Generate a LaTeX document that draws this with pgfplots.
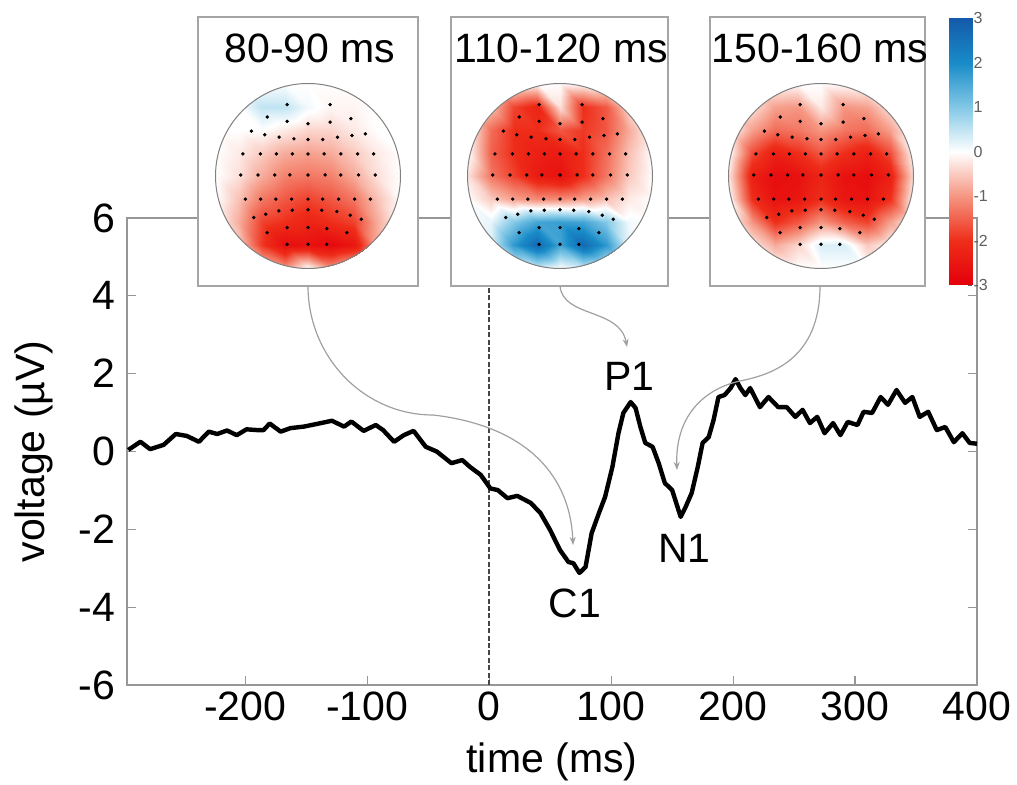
\documentclass[border=0pt]{standalone}
\usepackage{pgfplots}
\usepackage{pgfplotstable}
\pgfplotsset{compat=1.18}
\usetikzlibrary{arrows.meta}
\usepackage{fontspec}
\setmainfont{Liberation Sans}

\definecolor{axgray}{RGB}{150,150,150}
\definecolor{boxgray}{RGB}{165,165,165}
\definecolor{arrgray}{RGB}{160,160,160}
\definecolor{dashgray}{RGB}{70,70,70}
\definecolor{cbgray}{RGB}{95,95,95}

\pgfplotsset{colormap={eeg}{rgb255=(228,0,10) rgb255=(238,45,25) rgb255=(245,150,130) rgb255=(255,255,255) rgb255=(130,200,230) rgb255=(25,140,200) rgb255=(20,90,170)}}

\newcommand\bigfont{\fontsize{20.5}{24}\selectfont}

\pgfplotstableread{
t v
-296 0.04
-286 0.25
-278 0.06
-267 0.17
-257 0.45
-248 0.40
-238 0.25
-230 0.51
-223 0.45
-215 0.54
-207 0.42
-199 0.57
-190 0.55
-185 0.55
-180 0.72
-171 0.51
-163 0.60
-152 0.64
-141 0.71
-129 0.79
-119 0.64
-113 0.77
-103 0.53
-93 0.68
-87 0.55
-78 0.25
-70 0.42
-62 0.53
-52 0.12
-43 0.00
-31 -0.30
-22 -0.22
-16 -0.39
-7 -0.60
1 -0.95
7 -0.99
15 -1.20
23 -1.14
34 -1.32
42 -1.58
50 -2.02
58 -2.53
65 -2.84
69 -2.87
74 -3.12
79 -2.97
84 -2.10
90 -1.58
95 -1.17
101 -0.40
106 0.47
110 0.99
116 1.27
120 1.12
124 0.63
128 0.22
134 0.12
139 -0.30
144 -0.81
150 -0.99
157 -1.68
161 -1.43
166 -1.07
171 -0.40
175 0.22
180 0.37
184 0.81
188 1.40
193 1.45
198 1.63
202 1.86
206 1.63
210 1.45
214 1.63
222 1.14
229 1.40
237 1.14
244 1.14
251 0.89
257 1.07
263 0.73
269 0.89
275 0.47
282 0.73
288 0.42
294 0.76
302 0.68
307 1.02
314 0.99
321 1.40
327 1.20
334 1.58
341 1.25
347 1.40
353 0.89
360 1.02
367 0.55
374 0.63
381 0.24
388 0.47
394 0.22
400 0.20
}\erp

\pgfplotstableread{
x y a b c
-1 -1 0 0 0
-0.75 -1 0 0 0
-0.5 -1 -0.5 0.2 0
-0.25 -1 -1.0 0.4 0
0 -1 0 0 0
0.25 -1 -1.0 0.4 0
0.5 -1 -0.5 0.2 0
0.75 -1 0 0 0
1 -1 0 0 0
-1 -0.75 0 0 0
-0.75 -0.75 -0.5 0.3 -0.2
-0.5 -0.75 -1.9 1.8 -0.8
-0.25 -0.75 -2.7 2.7 -0.4
0 -0.75 -2.6 1.6 0.3
0.25 -0.75 -2.8 2.7 0.3
0.5 -0.75 -2.5 1.8 -0.5
0.75 -0.75 -0.8 0.2 -0.1
1 -0.75 0 0 0
-1 -0.5 0 0 0
-0.75 -0.5 -0.8 0.2 -1.0
-0.5 -0.5 -1.8 1.0 -2.0
-0.25 -0.5 -2.0 1.6 -1.6
0 -0.5 -2.2 1.7 -1.0
0.25 -0.5 -2.0 1.6 -1.5
0.5 -0.5 -1.8 1.0 -1.8
0.75 -0.5 -0.8 0.1 -0.9
1 -0.5 0 0 0
-1 -0.25 0 0 0
-0.75 -0.25 -0.6 -0.5 -2.0
-0.5 -0.25 -1.3 -0.9 -2.6
-0.25 -0.25 -1.6 -1.1 -2.5
0 -0.25 -1.8 -1.1 -2.0
0.25 -0.25 -1.6 -0.9 -2.5
0.5 -0.25 -1.3 -0.6 -2.6
0.75 -0.25 -0.6 -0.2 -2.0
1 -0.25 0 0 0
-1 0 0 -0.3 -0.3
-0.75 0 -0.3 -1.3 -2.3
-0.5 0 -0.8 -1.8 -2.7
-0.25 0 -1.2 -2.4 -2.6
0 0 -1.3 -2.6 -2.2
0.25 0 -1.2 -2.0 -2.6
0.5 0 -0.8 -1.3 -2.7
0.75 0 -0.3 -0.5 -2.3
1 0 0 0 -0.3
-1 0.25 0 0 0
-0.75 0.25 -0.2 -1.5 -1.7
-0.5 0.25 -0.5 -2.0 -2.3
-0.25 0.25 -0.8 -2.3 -2.0
0 0.25 -0.9 -2.4 -1.6
0.25 0.25 -0.8 -2.0 -2.0
0.5 0.25 -0.5 -1.4 -2.3
0.75 0.25 -0.2 -0.6 -1.7
1 0.25 0 0 0
-1 0.5 0 0 0
-0.75 0.5 0 -1.4 -0.9
-0.5 0.5 0 -2.0 -1.4
-0.25 0.5 -0.2 -2.0 -1.3
0 0.5 -0.4 -1.6 -1.0
0.25 0.5 -0.4 -1.9 -1.3
0.5 0.5 -0.2 -1.6 -1.4
0.75 0.5 0 -0.8 -0.9
1 0.5 0 0 0
-1 0.75 0 0 0
-0.75 0.75 0 -0.6 -0.3
-0.5 0.75 0.5 -1.8 -0.9
-0.25 0.75 0.5 -2.2 -1.0
0 0.75 0.1 -0.3 -0.2
0.25 0.75 -0.1 -2.0 -1.0
0.5 0.75 -0.1 -1.6 -0.9
0.75 0.75 0 -0.4 -0.3
1 0.75 0 0 0
-1 1 0 0 0
-0.75 1 0 0 0
-0.5 1 0 0 0
-0.25 1 0 0 0
0 1 0 0 0
0.25 1 0 0 0
0.5 1 0 0 0
0.75 1 0 0 0
1 1 0 0 0
}\topo

\pgfplotstableread{
x y
-0.225 0.772
0.239 0.772
-0.44 0.638
-0.225 0.591
0 0.565
0.239 0.583
0.464 0.62
-0.612 0.486
-0.467 0.446
-0.312 0.420
-0.152 0.402
0 0.395
0.159 0.395
0.319 0.42
0.475 0.438
0.62 0.456
-0.703 0.239
-0.514 0.239
-0.341 0.239
-0.17 0.239
0 0.239
0.174 0.239
0.355 0.239
0.536 0.239
0.71 0.239
-0.728 0.011
-0.54 0.011
-0.359 0.011
-0.196 0.011
0 0.011
0.185 0.011
0.355 0.011
0.547 0.011
0.728 0.011
-0.678 -0.25
-0.511 -0.25
-0.348 -0.25
-0.178 -0.25
0 -0.25
0.159 -0.25
0.33 -0.25
0.504 -0.25
0.674 -0.25
-0.587 -0.449
-0.457 -0.413
-0.315 -0.377
-0.17 -0.37
0 -0.366
0.149 -0.37
0.312 -0.384
0.457 -0.424
0.576 -0.467
-0.442 -0.612
-0.225 -0.558
0 -0.558
0.203 -0.569
0.42 -0.612
-0.225 -0.739
0 -0.739
0.203 -0.739
}\electrodes

\pgfplotsset{topo/.style={scale only axis, width=92.5pt, height=92.5pt,
  xmin=-1, xmax=1, ymin=-1, ymax=1, hide axis, anchor=center,
  colormap name=eeg, point meta min=-3, point meta max=3}}

\begin{document}
\begin{tikzpicture}
\useasboundingbox (0,0) rectangle (508.5pt,-392.5pt);

% main ERP axis
\begin{axis}[at={(63.5pt,-342.5pt)}, anchor=south west, scale only axis,
  width=425pt, height=233.5pt,
  xmin=-297, xmax=400, ymin=-6, ymax=6,
  xtick={-200,-100,0,100,200,300,400}, ytick={-6,-4,-2,0,2,4,6},
  tick align=inside, major tick length=4.5pt,
  axis line style={axgray, line width=0.75pt},
  every tick/.style={axgray, line width=0.6pt},
  ticklabel style={font=\bigfont},
  yticklabel style={xshift=-2.5pt},
  label style={font=\bigfont},
  /pgf/number format/assume math mode=true,
  xlabel={time (ms)}, ylabel={voltage (µV)},
  xlabel style={at={(axis description cs:0.5,-0.165)}, anchor=center},
  ylabel style={at={(axis description cs:-0.109,0.5)}, anchor=center},
  clip=false]
\addplot[dashgray, line width=0.8pt, dash pattern=on 2.5pt off 1.2pt] coordinates {(0,-6) (0,6)};
\addplot[black, line width=2.2pt, line join=round] table[x=t, y=v] {\erp};
\node[font=\bigfont] at (axis cs:70.5,-3.89) {C1};
\node[font=\bigfont] at (axis cs:115,1.92) {P1};
\node[font=\bigfont] at (axis cs:160,-2.48) {N1};
\end{axis}

% boxes and titles
\begin{scope}[x=0.5pt, y=-0.5pt]
\foreach \a/\b in {198/418, 451/668, 710/925}
  \draw[boxgray, line width=0.75pt, fill=white] (\a,17) rectangle (\b,286);
\node[font=\bigfont] at (310,48) {80-90 ms};
\node[font=\bigfont] at (561,48) {110-120 ms};
\node[font=\bigfont] at (820,48) {150-160 ms};
\end{scope}

% topomap 1
\begin{scope}
\clip (154pt,-88pt) circle (46.25pt);
\begin{axis}[topo, at={(154pt,-88pt)}]
\addplot[surf, shader=interp, mesh/cols=9, point meta=explicit] table[x=x, y=y, meta=a] {\topo};
\addplot[only marks, mark=*, mark size=0.65pt, black] table[x=x, y=y] {\electrodes};
\end{axis}
\end{scope}
\draw[gray, line width=0.5pt] (154pt,-88pt) circle (46.25pt);

% topomap 2
\begin{scope}
\clip (280pt,-88pt) circle (46.25pt);
\begin{axis}[topo, at={(280pt,-88pt)}]
\addplot[surf, shader=interp, mesh/cols=9, point meta=explicit] table[x=x, y=y, meta=b] {\topo};
\addplot[only marks, mark=*, mark size=0.65pt, black] table[x=x, y=y] {\electrodes};
\end{axis}
\end{scope}
\draw[gray, line width=0.5pt] (280pt,-88pt) circle (46.25pt);

% topomap 3
\begin{scope}
\clip (410.5pt,-88pt) circle (46.25pt);
\begin{axis}[topo, at={(410.5pt,-88pt)}]
\addplot[surf, shader=interp, mesh/cols=9, point meta=explicit] table[x=x, y=y, meta=c] {\topo};
\addplot[only marks, mark=*, mark size=0.65pt, black] table[x=x, y=y] {\electrodes};
\end{axis}
\end{scope}
\draw[gray, line width=0.5pt] (410.5pt,-88pt) circle (46.25pt);

% colorbar
\begin{axis}[at={(474.5pt,-142.5pt)}, anchor=south west, scale only axis,
  width=11.5pt, height=133.5pt, xmin=0, xmax=1, ymin=-3, ymax=3,
  xtick=\empty, ytick={-3,-2,-1,0,1,2,3}, ytick pos=right, yticklabel pos=right,
  tick align=inside, major tick length=2pt,
  axis line style={draw=none},
  every tick/.style={cbgray, line width=0.4pt},
  yticklabel style={font=\fontsize{8}{9}\selectfont, text=cbgray, inner sep=0.6pt},
  /pgf/number format/assume math mode=true,
  colormap name=eeg, point meta min=-3, point meta max=3]
\addplot[surf, shader=interp, mesh/cols=2, point meta=explicit] table[x=x, y=y, meta=c] {
x y c
0 -3 -3
1 -3 -3
0 -2 -2
1 -2 -2
0 -1 -1
1 -1 -1
0 0 0
1 0 0
0 1 1
1 1 1
0 2 2
1 2 2
0 3 3
1 3 3
};
\end{axis}

% arrows
\begin{scope}[x=0.5pt, y=-0.5pt, arrgray, line width=0.6pt, -{Stealth[length=4pt, width=3pt]}]
\draw (308,286) .. controls (308,357) and (364,415) .. (433,415) .. controls (520,425) and (570,470) .. (573,545);
\draw (560,286) .. controls (563,318) and (620,308) .. (627,347);
\draw (820,286) .. controls (820,360) and (770,375) .. (740,381) .. controls (700,390) and (675,420) .. (677,470);
\end{scope}
\end{tikzpicture}
\end{document}
